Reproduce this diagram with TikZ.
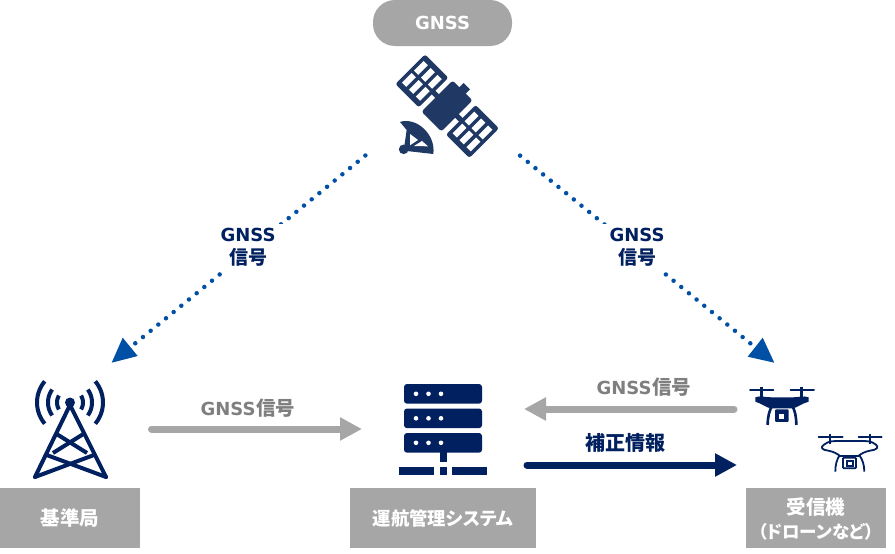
\documentclass[tikz,border=0pt]{standalone}
\usepackage{fontspec}
\setmainfont[RawFeature=+palt]{Noto Sans CJK JP}
\newfontfamily\latinbold[BoldFont={DejaVu Sans Bold}]{DejaVu Sans}
\newcommand{\gnsstxt}{{\latinbold\bfseries\fontsize{18}{23}\selectfont GNSS}}
\usetikzlibrary{arrows.meta}
\definecolor{navy}{HTML}{002060}
\definecolor{satnavy}{HTML}{1F3864}
\definecolor{sigblue}{HTML}{0050A5}
\definecolor{boxgray}{HTML}{A6A6A6}
\definecolor{txtgray}{HTML}{7F7F7F}
\tikzset{
  labelbox/.style={fill=boxgray,text=white,font=\fontsize{19.5}{25}\selectfont\bfseries,align=center,inner sep=0pt,minimum height=60pt},
  siglabel/.style={text=navy,font=\fontsize{19}{23}\selectfont\bfseries,align=center,inner sep=0pt},
  flowlabel/.style={text=txtgray,font=\fontsize{19.5}{22}\selectfont\bfseries,inner sep=0pt},
  grayflow/.style={draw=boxgray,line width=7pt,line cap=round,-{Triangle[length=22pt,width=22pt]}},
  navyflow/.style={draw=navy,line width=7pt,line cap=round,-{Triangle[length=22pt,width=22pt]}},
  dotted link/.style={draw=sigblue,line width=4.5pt,line cap=round,dash pattern=on 0pt off 9.9pt},
  sighead/.style={fill=sigblue,draw=none}
}
\begin{document}
\begin{tikzpicture}[x=1pt,y=-1pt]
\useasboundingbox (0,0) rectangle (895,554);
\fill[white] (0,0) rectangle (895,554);
% GNSS pill
\node[fill=boxgray,text=white,font=\fontsize{18.5}{22}\selectfont\bfseries,rounded corners=22pt,minimum width=139pt,minimum height=46pt,inner sep=0pt] (gnss) at (442.5,23) {\gnsstxt};
% coordinates for links
\coordinate (satL) at (366,155);
\coordinate (satR) at (519.3,155);
\coordinate (headL) at (135.3,343.3);
\coordinate (headR) at (750.3,343.3);
\draw[dotted link] (headL) -- (satL);
\draw[dotted link] (headR) -- (satR);
\fill[sighead] (122.7,337.7) -- (137.7,356) -- (111.7,362.7) -- cycle;
\fill[sighead] (762.7,337.7) -- (747.7,356.7) -- (774.3,362.7) -- cycle;
\node[siglabel,fill=white,minimum width=96pt,minimum height=47pt] (sigL) at (248,247) {\gnsstxt\\信号};
\node[siglabel,fill=white,minimum width=96pt,minimum height=47pt] (sigR) at (637,247) {\gnsstxt\\信号};
% satellite
\begin{scope}[shift={(447,106)},rotate=-45]
  \foreach \c in {-35.5,36}{
    \fill[satnavy,rounded corners=2.5pt] (\c-16.5,-21) rectangle (\c+16.5,21);
    \foreach \u in {-9.8,0,9.8}{\foreach \v in {-8.5,8.5}{
      \fill[white] (\c+\u-3,\v-6.8) rectangle (\c+\u+3,\v+6.8);}}
  }
  \fill[satnavy] (-20,-2.5) rectangle (20,2.5);
  \fill[satnavy,rounded corners=2.5pt] (-14,-22) rectangle (14,22);
  \fill[satnavy] (-4.5,-28) rectangle (4.5,-19);
\end{scope}
\begin{scope}[shift={(392,110)},x=0.3333pt,y=-0.3333pt]
  \fill[satnavy] (24,36) .. controls (70,20) and (132,70) .. (124,132) -- (35,122) -- (44,60) -- cycle;
  \fill[white] (54,72) -- (54,106) -- (78,90) -- cycle;
  \fill[white] (66,108) -- (90,93) -- (108,109) -- cycle;
  \fill[satnavy] (35,118) circle[radius=4.8pt];
\end{scope}
% tower
\begin{scope}[navy,line width=4pt]
  \foreach \r/\a in {13/32,22/36,33/40}{
    \draw plot[domain=180-\a:180+\a,samples=16] ({70+\r*cos(\x)},{402.5+\r*sin(\x)});
    \draw plot[domain=-\a:\a,samples=16] ({70+\r*cos(\x)},{402.5+\r*sin(\x)});
  }
  \fill (70,402.5) circle[radius=5pt];
  \draw[line join=round,line cap=round] (35,477) -- (70,405) -- (106,477);
  \draw (55,433) -- (87,453);
  \draw (85,433) -- (53,453);
  \draw[line cap=round] (46.7,455) -- (106,477);
  \draw[line cap=round] (94,455) -- (35,477);
\end{scope}
% server
\foreach \y in {384,408.5,433}{
  \fill[navy,rounded corners=3pt] (404,\y) rectangle (482,\y+19.7);
  \foreach \x in {416,428.5,441}{\fill[white] (\x,\y+9.8) circle[radius=2.3pt];}
}
\fill[navy] (439.5,452) rectangle (447,462);
\fill[navy] (399,467.3) rectangle (434,475);
\fill[navy] (439.5,467.3) rectangle (447,475);
\fill[navy] (452,467.3) rectangle (487,475);
% filled drone
\begin{scope}[shift={(730,370)},x=0.3333pt,y=-0.3333pt]
  \draw[navy,line width=2pt,line cap=round] (60,60) -- (130,60);
  \draw[navy,line width=2pt,line cap=round] (182,60) -- (252,60);
  \draw[navy,line width=2.8pt] (95,50) -- (95,90);
  \draw[navy,line width=2.8pt] (215,50) -- (215,90);
  \fill[navy] (76,82) .. controls (90,76) and (105,82) .. (125,82) -- (190,82) .. controls (205,82) and (220,76) .. (236,82) -- (236,95) .. controls (215,100) and (200,115) .. (185,115) -- (125,115) .. controls (110,115) and (95,100) .. (76,95) -- cycle;
  \draw[navy,line width=2.6pt] (128,105) .. controls (118,120) and (113,140) .. (113,165);
  \draw[navy,line width=2.6pt] (185,105) .. controls (195,120) and (199,140) .. (199,165);
  \fill[navy,rounded corners=1pt] (135,118) rectangle (176,156);
  \fill[white] (147,132) rectangle (163,146);
  % outline drone
  \draw[navy,line width=1.8pt,line cap=round] (266,200) -- (338,200);
  \draw[navy,line width=1.8pt,line cap=round] (386,200) -- (455,200);
  \draw[navy,line width=2.2pt] (300,192) -- (300,222);
  \draw[navy,line width=2.2pt] (420,192) -- (420,222);
  \draw[navy,line width=1.8pt,line join=round] (330,213) -- (392,213) .. controls (405,213) and (425,212) .. (438,224) .. controls (448,232) and (440,240) .. (420,242) .. controls (405,245) and (395,250) .. (385,258) -- (330,258) .. controls (320,250) and (310,245) .. (295,242) .. controls (275,240) and (270,232) .. (282,224) .. controls (295,212) and (315,213) .. (330,213) -- cycle;
  \draw[navy,line width=1.8pt] (329,255) .. controls (320,270) and (316,285) .. (316,305);
  \draw[navy,line width=1.8pt] (388,255) .. controls (398,270) and (403,285) .. (403,305);
  \draw[navy,line width=1.8pt,rounded corners=1pt] (339,263) rectangle (378,295);
  \draw[navy,line width=1.8pt] (351,272) rectangle (368,288);
\end{scope}
% label boxes
\node[labelbox,minimum width=140pt] (base) at (70,518) {基準局};
\node[labelbox,minimum width=186pt,font=\fontsize{18.3}{25}\selectfont\bfseries] (ops) at (443,518) {運航管理システム};
\node[labelbox,minimum width=140pt] (recv) at (816,518) {};
\node[text=white,font=\fontsize{19.5}{25}\selectfont\bfseries,inner sep=0pt] (recvA) at (816,507) {受信機};
\node[text=white,font=\fontsize{17.5}{25}\selectfont\bfseries,inner sep=0pt] (recvB) at (816,532) {（ドローンなど）};
% flows
\coordinate (baseOut) at (151.5,429);
\coordinate (opsIn) at (362,429);
\coordinate (droneOut) at (734,409);
\coordinate (opsInR) at (524,409);
\coordinate (opsOut) at (527,465);
\coordinate (droneIn) at (737,465);
\draw[grayflow] (baseOut) -- (opsIn);
\draw[grayflow] (droneOut) -- (opsInR);
\draw[navyflow] (opsOut) -- (droneIn);
\node[flowlabel] (lab1) at (248,408) {\gnsstxt\kern0.8pt信号};
\node[flowlabel] (lab2) at (644,387) {\gnsstxt\kern0.8pt信号};
\node[text=navy,font=\fontsize{20}{22}\selectfont\bfseries,inner sep=0pt] (lab3) at (625,443) {補正情報};
\end{tikzpicture}
\end{document}
